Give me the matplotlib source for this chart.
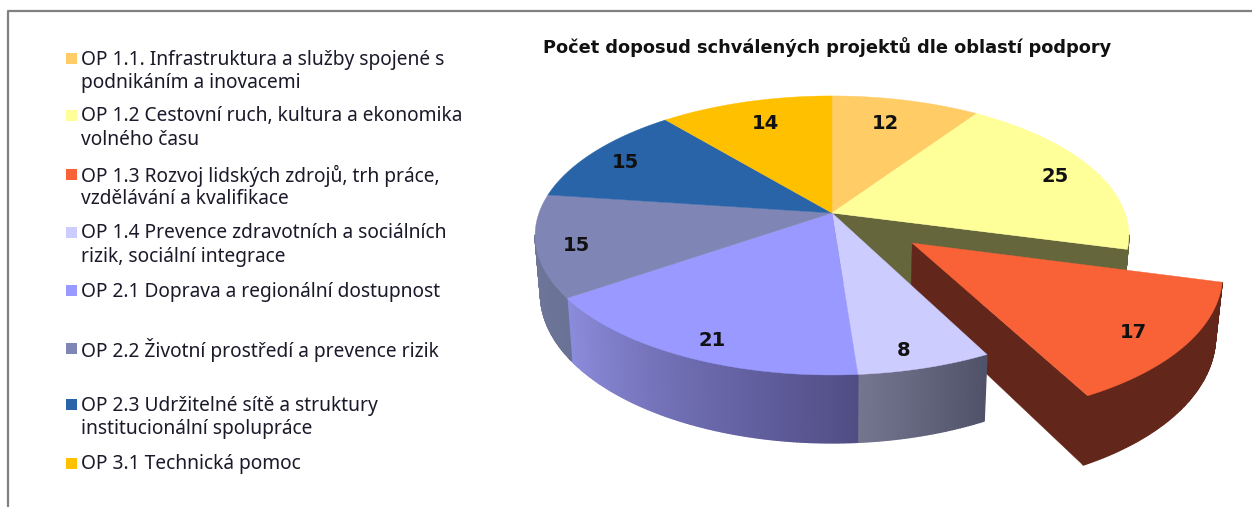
import matplotlib
matplotlib.use("Agg")
import matplotlib.pyplot as plt
from matplotlib.patches import Rectangle
import numpy as np

title = "Počet doposud schválených projektů dle oblastí podpory"
labels = [
    "OP 1.1. Infrastruktura a služby spojené s\npodnikáním a inovacemi",
    "OP 1.2 Cestovní ruch, kultura a ekonomika\nvolného času",
    "OP 1.3 Rozvoj lidských zdrojů, trh práce,\nvzdělávání a kvalifikace",
    "OP 1.4 Prevence zdravotních a sociálních\nrizik, sociální integrace",
    "OP 2.1 Doprava a regionální dostupnost",
    "OP 2.2 Životní prostředí a prevence rizik",
    "OP 2.3 Udržitelné sítě a struktury\ninstitucionální spolupráce",
    "OP 3.1 Technická pomoc",
]
values = [12, 25, 17, 8, 21, 15, 15, 14]
colors = ["#FFCC66", "#FFFF99", "#F86236", "#CCCCFF", "#9999FF", "#7F86B5", "#2A64A8", "#FFC000"]
wall_left = ["#66523a", "#66663c", "#63261A", "#757590", "#8C8CDC", "#6E7699", "#1c4270", "#665000"]
wall_right = ["#66523a", "#66663c", "#63261A", "#4F5268", "#504D85", "#6A7296", "#1c4270", "#665000"]
exploded = 2

# layout, in pixels of the picture
legend_y = [58, 115, 174, 232, 290, 348, 404, 463]
label_r = [0.777, 0.849, 0.843, 0.888, 0.882, 0.871, 0.851, 0.791]
label_turn = [-1.9, 0.4, 2.0, 1.8, -1.7, -1.6, -1.0, 1.2]
cx, cy = 832, 213
sx, sy, k = 293, 135.9, 0.161
depth = 57
shrink = 0.982
explode = 0.34
wall_from, wall_to = 99, 261


def project(u, v, bottom=False):
    s = 1 + k * v
    x = cx + sx * u / s
    y = cy - sy * v / s
    if bottom:
        x = cx + (x - cx) * shrink
        y = y + depth / s
    return x, y


def arc(a0, a1, off=(0, 0), r=1.0):
    t = np.radians(np.linspace(a0, a1, max(int(abs(a1 - a0) * 2), 2)))
    return r * np.sin(t) + off[0], r * np.cos(t) + off[1]


def draw_top(a0, a1, color, off=(0, 0)):
    u, v = arc(a0, a1, off)
    x, y = project(np.r_[off[0], u], np.r_[off[1], v])
    ax.fill(x, y, color=color, lw=0.3)


def draw_wall(a0, a1, c0, c1, off=(0, 0)):
    # outer side of a slice, cut in thin strips for the gradient; back side is never seen
    a0, a1 = max(a0, wall_from), min(a1, wall_to)
    if a1 <= a0:
        return
    u, v = arc(a0, a1, off)
    xt, yt = project(u, v)
    xb, yb = project(u, v, True)
    c0 = np.array(matplotlib.colors.to_rgb(c0))
    c1 = np.array(matplotlib.colors.to_rgb(c1))
    for i in range(len(u) - 1):
        f = i / max(len(u) - 2, 1)
        # angles run clockwise, so along the front the strips go right to left
        c = c1 * (1 - f) + c0 * f
        ax.fill([xt[i], xt[i + 1], xb[i + 1], xb[i]], [yt[i], yt[i + 1], yb[i + 1], yb[i]], color=c, lw=1.0)


def draw_radial(a, color, off=(0, 0), extra=0):
    u, v = arc(a, a + 0.01, off)
    x0, y0 = project(off[0], off[1])
    x1, y1 = project(u[0], v[0])
    x2, y2 = project(u[0], v[0], True)
    x3, y3 = project(off[0], off[1], True)
    ax.fill([x0, x1, x2, x3], [y0, y1, y2 + extra, y3 + extra], color=color, lw=0.3)


plt.rcParams['font.family'] = ['Noto Sans', 'DejaVu Sans']
fig = plt.figure(figsize=(12.52, 5.07), dpi=100)
ax = fig.add_axes([0, 0, 1, 1])
ax.set_xlim(0, 1252)
ax.set_ylim(507, 0)
ax.axis('off')

ax.plot([8, 8, 1252], [507, 11, 11], color="#808080", lw=1.6)

total = sum(values)
edges = np.cumsum([0] + values) / total * 360
mids = (edges[:-1] + edges[1:]) / 2
m = np.radians(mids[exploded])
off = (explode * np.sin(m), explode * np.cos(m))

# back part first: the cut side of the neighbour, then the pulled out slice
draw_radial(edges[exploded], wall_left[exploded - 1], extra=12)
draw_wall(edges[exploded - 1], edges[exploded], wall_left[exploded - 1], wall_right[exploded - 1])
draw_radial(edges[exploded + 1], wall_left[exploded], off)
draw_wall(edges[exploded], edges[exploded + 1], wall_left[exploded], wall_right[exploded], off)
draw_top(edges[exploded], edges[exploded + 1], colors[exploded], off)

for i in range(len(values)):
    if i != exploded and i != exploded - 1:
        draw_wall(edges[i], edges[i + 1], wall_left[i], wall_right[i])
for i in range(len(values)):
    if i != exploded:
        draw_top(edges[i], edges[i + 1], colors[i])

for i, val in enumerate(values):
    t = np.radians(mids[i] + label_turn[i])
    u = label_r[i] * np.sin(t)
    v = label_r[i] * np.cos(t)
    if i == exploded:
        u += off[0]
        v += off[1]
    x, y = project(u, v)
    ax.text(x, y + 1, str(val), ha='center', va='center', fontsize=14, fontweight='bold',
            family='DejaVu Sans', color="#111111")

ax.text(827, 47, title, ha='center', va='center', fontsize=12.75, fontweight='bold',
        family='DejaVu Sans', color="#111111")

for i, lab in enumerate(labels):
    ax.add_patch(Rectangle((66, legend_y[i] - 5.5), 11, 11, color=colors[i], lw=0))
    for j, line in enumerate(lab.split("\n")):
        ax.text(81, legend_y[i] + 1.5 + j * 23.5, line, ha='left', va='center', fontsize=13.8, color="#1a1a2a")

fig.savefig("out.png", dpi=100)
